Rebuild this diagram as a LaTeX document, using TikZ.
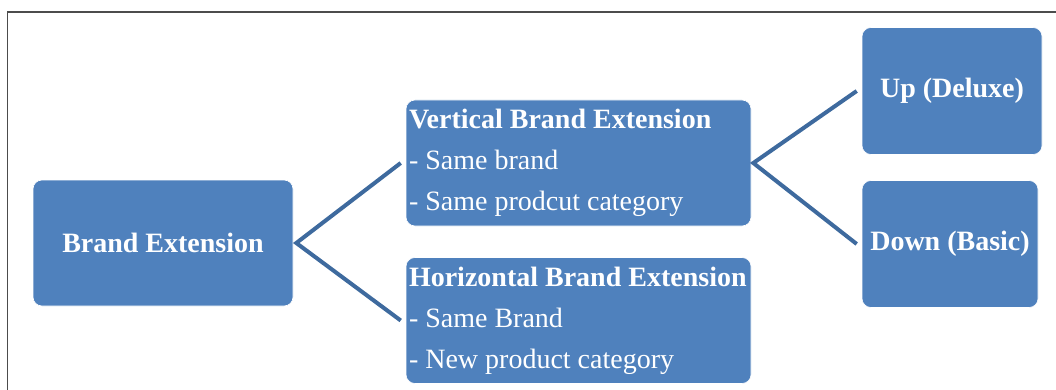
\documentclass[tikz,border=0pt]{standalone}
\usepackage{fontspec}
\setmainfont{Liberation Serif}
\usetikzlibrary{positioning}

\definecolor{boxblue}{RGB}{79,129,189}
\definecolor{linkblue}{RGB}{62,106,158}

\begin{document}
\begin{tikzpicture}[
  x=1pt,y=-1pt,
  font=\fontsize{28}{41}\selectfont,
  box/.style={fill=boxblue,draw=white,line width=.6pt,rounded corners=9pt,text=white,inner sep=4pt},
  leaf/.style={box,font=\fontsize{28}{41}\selectfont\bfseries,align=center},
  branch/.style={box,inner xsep=3pt,minimum width=345,minimum height=126,text width=339,align=flush left},
  link/.style={linkblue,line width=4pt,line join=miter}
]
\useasboundingbox (0,0) rectangle (1056,390);
% page frame, cut at the right and bottom
\draw[black!70,line width=1.5pt] (7.5,390) -- (7.5,12) -- (1056,12);

% root and the two kinds of extension
\node[leaf,minimum width=260,minimum height=126] (brand) at (163,243) {Brand Extension};
\node[branch] (vert) at (578.5,163)
  {\textbf{Vertical Brand Extension}\\- Same brand\\- Same prodcut category};
\node[branch] (horiz) at (578.5,320.5)
  {\textbf{Horizontal Brand Extension}\\- Same Brand\\- New product category};

% directions of a vertical extension
\node[leaf,minimum width=180,minimum height=127] (up) at (952,91) {Up (Deluxe)};
\node[leaf,minimum width=176,minimum height=127] (down) at (950,244) {Down (Basic)};

\draw[link] ([xshift=-5pt]vert.west) -- ([xshift=3pt]brand.east) -- ([xshift=-5pt]horiz.west);
\draw[link] ([xshift=-5pt]up.west) -- ([xshift=2pt]vert.east) -- ([xshift=-5pt]down.west);
\end{tikzpicture}
\end{document}
